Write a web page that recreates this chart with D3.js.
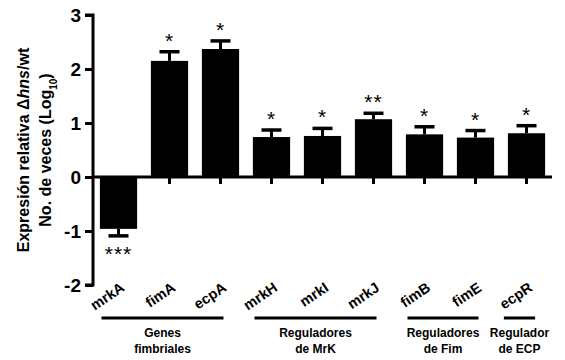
<!DOCTYPE html>
<html><head><meta charset="utf-8">
<script src="https://cdn.jsdelivr.net/npm/d3@7"></script>
<style>body{margin:0;background:#fff}svg{display:block}text{font-family:"Liberation Sans",Arial,sans-serif;font-weight:bold;fill:#000}</style>
</head><body><svg id="c" width="565" height="360"></svg>
<script>
const genes = ["mrkA","fimA","ecpA","mrkH","mrkI","mrkJ","fimB","fimE","ecpR"];
const values = [-0.96,2.15,2.37,0.74,0.76,1.07,0.79,0.73,0.81];
const errors = [0.13,0.17,0.15,0.13,0.14,0.11,0.14,0.13,0.14];
const stars = ["***","*","*","*","*","**","*","*","*"];
const yTicks = [-2,-1,0,1,2,3];
const groups = [
  {label:["Genes","fimbriales"], from:"mrkA", to:"ecpA"},
  {label:["Reguladores","de MrK"], from:"mrkH", to:"mrkJ"},
  {label:["Reguladores","de Fim"], from:"fimB", to:"fimE"},
  {label:["Regulador","de ECP"], from:"ecpR", to:"ecpR"}
];

const svg = d3.select("#c");
const x = d3.scaleBand().domain(genes).range([93,552]).paddingInner(0.27).paddingOuter(0.135);
const y = d3.scaleLinear().domain([-2,3]).range([285,15]);
const cx = g => x(g)+x.bandwidth()/2;

// bars
svg.selectAll("rect.bar").data(genes).enter().append("rect")
  .attr("x", d=>x(d)).attr("width", x.bandwidth())
  .attr("y", (d,i)=>Math.min(y(values[i]),y(0)))
  .attr("height",(d,i)=>Math.abs(y(values[i])-y(0)))
  .attr("fill","#000");

// error bars
genes.forEach((g,i)=>{
  const v=values[i], e=v<0?v-errors[i]:v+errors[i];
  svg.append("line").attr("x1",cx(g)).attr("x2",cx(g)).attr("y1",y(v)).attr("y2",y(e)).attr("stroke","#000").attr("stroke-width",3);
  svg.append("line").attr("x1",cx(g)-10).attr("x2",cx(g)+10).attr("y1",y(e)).attr("y2",y(e)).attr("stroke","#000").attr("stroke-width",3.5);
  const sy = v<0 ? y(e)+25 : y(e)-4;
  svg.append("text").attr("x",cx(g)).attr("y",sy).attr("text-anchor","middle")
    .style("font-size","21px").style("font-weight","normal").style("letter-spacing","1px").text(stars[i]);
});

// y axis
const ya = svg.append("g").attr("transform","translate(93,0)")
  .call(d3.axisLeft(y).tickValues(yTicks).tickSize(8).tickPadding(4).tickFormat(d=>String(d)));
ya.select(".domain").attr("stroke-width",3).attr("d","M-8,"+y(3)+"H0V"+y(-2)+"H-8");
ya.selectAll(".tick line").attr("stroke-width",3);
ya.selectAll(".tick text").style("font-size","19px").style("font-weight","bold").attr("font-family","Liberation Sans, Arial, sans-serif");

// x axis at 0
const xa = svg.append("g").attr("transform","translate(0,"+y(0)+")")
  .call(d3.axisBottom(x).tickSize(7).tickFormat(""));
xa.select(".domain").attr("stroke-width",3).attr("d","M93,0H552");
xa.selectAll(".tick line").attr("stroke-width",3);

// gene labels
svg.selectAll("text.gl").data(genes).enter().append("text")
  .attr("transform",d=>`translate(${cx(d)+7},${290}) rotate(-34)`)
  .attr("text-anchor","end").style("font-size","14.5px").text(d=>d);

// group lines & labels
groups.forEach(gr=>{
  const x1 = gr.from===gr.to ? x(gr.from)-4 : cx(gr.from)-17;
  const x2 = gr.from===gr.to ? x(gr.to)+x.bandwidth()-10 : cx(gr.to)+3;
  svg.append("line").attr("x1",x1).attr("x2",x2).attr("y1",318).attr("y2",318).attr("stroke","#000").attr("stroke-width",3);
  const t = svg.append("text").attr("text-anchor","middle").style("font-size","12px");
  gr.label.forEach((l,k)=>t.append("tspan").attr("x",(x1+x2)/2).attr("y",337+k*16).text(l));
});

// y title
const yt = svg.append("text").attr("transform","translate(29,150) rotate(-90)").attr("text-anchor","middle").style("font-size","16px");
yt.append("tspan").text("Expresión relativa Δ");
yt.append("tspan").style("font-style","italic").text("hns");
yt.append("tspan").text("/wt");
const yt2 = svg.append("text").attr("transform","translate(51,150) rotate(-90)").attr("text-anchor","middle").style("font-size","16px");
yt2.append("tspan").text("No. de veces (Log");
yt2.append("tspan").attr("baseline-shift","sub").style("font-size","10px").text("10");
yt2.append("tspan").text(")");
</script></body></html>
